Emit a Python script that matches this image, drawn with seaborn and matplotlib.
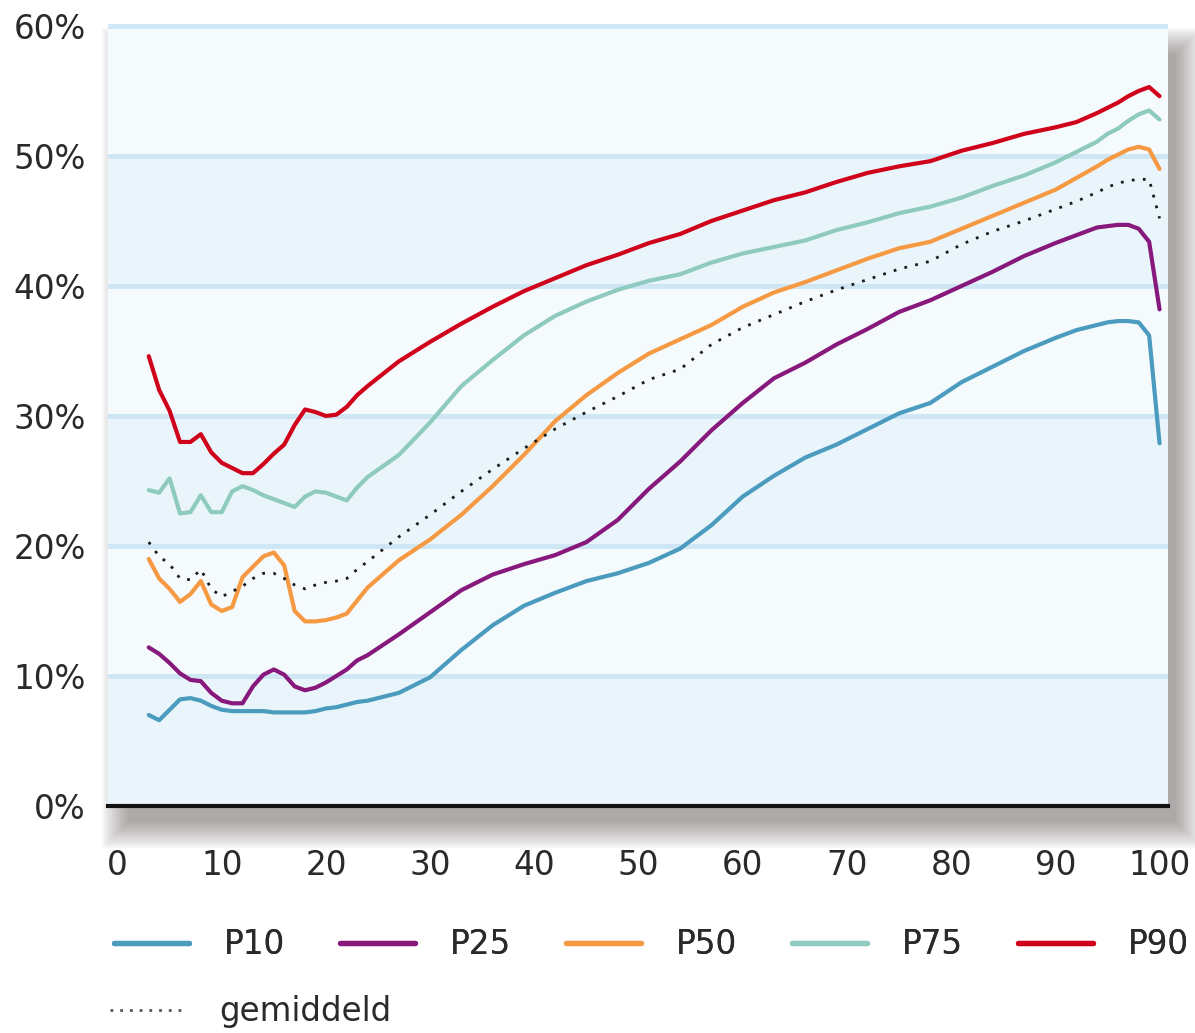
import matplotlib
matplotlib.use("Agg")
import matplotlib.pyplot as plt
from matplotlib.patches import Rectangle
from matplotlib.lines import Line2D
import numpy as np
import pandas as pd
import seaborn as sns

# ---------------- data ----------------
x = [3, 4, 5, 6, 7, 8, 9, 10, 11, 12, 13, 14, 15, 16, 17, 18, 19, 20, 21, 22, 23, 24,
     27, 30, 33, 36, 39, 42, 45, 48, 51, 54, 57, 60, 63, 66, 69, 72, 75, 78, 81, 84,
     87, 90, 92, 94, 95, 96, 97, 98, 99, 100]

p10 = [7.0, 6.6, 7.4, 8.2, 8.3, 8.1, 7.7, 7.4, 7.3, 7.3, 7.3, 7.3, 7.2, 7.2, 7.2, 7.2,
       7.3, 7.5, 7.6, 7.8, 8.0, 8.1,
       8.7, 9.9, 12.0, 13.9, 15.4, 16.4, 17.3, 17.9, 18.7, 19.8, 21.6, 23.8, 25.4, 26.8,
       27.8, 29.0, 30.2, 31.0, 32.6, 33.8, 35.0, 36.0, 36.6, 37.0, 37.2, 37.3, 37.3,
       37.2, 36.2, 27.9]

p25 = [12.2, 11.7, 11.0, 10.2, 9.7, 9.6, 8.7, 8.1, 7.9, 7.9, 9.2, 10.1, 10.5, 10.1, 9.2,
       8.9, 9.1, 9.5, 10.0, 10.5, 11.2, 11.6,
       13.2, 14.9, 16.6, 17.8, 18.6, 19.3, 20.3, 22.0, 24.4, 26.5, 28.9, 31.0, 32.9, 34.1,
       35.5, 36.7, 38.0, 38.9, 40.0, 41.1, 42.3, 43.3, 43.9, 44.5, 44.6, 44.7, 44.7,
       44.4, 43.4, 38.2]

p50 = [19.0, 17.5, 16.7, 15.7, 16.3, 17.3, 15.5, 15.0, 15.3, 17.6, 18.4, 19.2, 19.5,
       18.5, 15.0, 14.2, 14.2, 14.3, 14.5, 14.8, 15.8, 16.8,
       18.9, 20.5, 22.4, 24.6, 27.0, 29.6, 31.6, 33.3, 34.8, 35.9, 37.0, 38.4, 39.5, 40.3,
       41.2, 42.1, 42.9, 43.4, 44.4, 45.4, 46.4, 47.4, 48.3, 49.2, 49.7, 50.1, 50.5,
       50.7, 50.5, 49.0]

p75 = [24.3, 24.1, 25.2, 22.5, 22.6, 23.9, 22.6, 22.6, 24.2, 24.6, 24.3, 23.9, 23.6,
       23.3, 23.0, 23.8, 24.2, 24.1, 23.8, 23.5, 24.5, 25.3,
       27.0, 29.5, 32.3, 34.3, 36.2, 37.7, 38.8, 39.7, 40.4, 40.9, 41.8, 42.5, 43.0, 43.5,
       44.3, 44.9, 45.6, 46.1, 46.8, 47.7, 48.5, 49.5, 50.3, 51.1, 51.7, 52.1, 52.7,
       53.2, 53.5, 52.8]

p90 = [34.6, 32.0, 30.4, 28.0, 28.0, 28.6, 27.2, 26.4, 26.0, 25.6, 25.6, 26.3, 27.1,
       27.8, 29.3, 30.5, 30.3, 30.0, 30.1, 30.7, 31.6, 32.3,
       34.2, 35.7, 37.1, 38.4, 39.6, 40.6, 41.6, 42.4, 43.3, 44.0, 45.0, 45.8, 46.6, 47.2,
       48.0, 48.7, 49.2, 49.6, 50.4, 51.0, 51.7, 52.2, 52.6, 53.3, 53.7, 54.1, 54.6,
       55.0, 55.3, 54.6]

gemiddeld = [20.3, 19.2, 18.6, 17.5, 17.4, 18.2, 16.7, 16.1, 16.5, 16.9, 17.5, 17.9, 17.9,
             17.5, 17.0, 16.7, 17.0, 17.2, 17.3, 17.5, 18.2, 18.8,
             20.7, 22.4, 24.2, 25.9, 27.5, 29.0, 30.3, 31.5, 32.8, 33.6, 35.5, 36.8, 37.8,
             38.8, 39.7, 40.5, 41.3, 41.9, 43.2, 44.2, 45.0, 45.9, 46.5, 47.2, 47.6, 47.9,
             48.1, 48.2, 48.2, 45.2]

series_names = ["P10", "P25", "P50", "P75", "P90"]
series_colors = ["#4a9bbe", "#87187c", "#f59a43", "#8ecbbe", "#d0021b"]
avg_label = "gemiddeld"

x_ticks = [0, 10, 20, 30, 40, 50, 60, 70, 80, 90, 100]
y_ticks = [0, 10, 20, 30, 40, 50, 60]
y_ticklabels = ["0%", "10%", "20%", "30%", "40%", "50%", "60%"]

# ---------------- figure ----------------
sns.set_theme(style="white")
plt.rcParams["font.family"] = ["DejaVu Sans"]
TXT = "#2a2a2a"
FS = 23.5

W, H = 1195, 1033
fig = plt.figure(figsize=(W / 100, H / 100), dpi=100)
fig.patch.set_facecolor("white")


def fx(px):
    return px / W


def fy(py):
    return (H - py) / H


# plot box in pixel coordinates
L, R, T, B = 108, 1168, 24, 806

# soft drop shadow (offset to the lower right) behind the plot box
for s in range(0, 28, 2):
    l, r = L + 20 - s, R + 8 + s
    t, b = T + 30 - s, B + 16 + s
    fig.add_artist(Rectangle((fx(l), fy(b)), fx(r) - fx(l), fy(t) - fy(b),
                             transform=fig.transFigure, facecolor="#5a5050",
                             edgecolor="none", alpha=0.045, zorder=0))

ax = fig.add_axes([fx(L), fy(B), fx(R) - fx(L), fy(T) - fy(B)], zorder=1)
ax.set_facecolor("#f5fafd")

for lo in (0, 20, 40):
    ax.axhspan(lo, lo + 10, color="#eaf5fb", zorder=0, lw=0)

df = pd.DataFrame({"x": x})
for name, vals in zip(series_names, [p10, p25, p50, p75, p90]):
    df[name] = vals
df[avg_label] = gemiddeld
long = df.melt(id_vars="x", value_vars=series_names, var_name="serie", value_name="v")

sns.lineplot(data=long, x="x", y="v", hue="serie", hue_order=series_names,
             palette=series_colors, lw=3.0, legend=False, ax=ax, zorder=3)
sns.lineplot(data=df, x="x", y=avg_label, color="#1a1a1a", lw=2.0,
             linestyle=(0, (1, 3)), ax=ax, zorder=4)

ax.set_xlim(-0.91, 100.81)
ax.set_ylim(0, 60.15)
ax.set_xticks(x_ticks)
ax.set_xticklabels([str(t) for t in x_ticks])
ax.set_yticks(y_ticks)
ax.set_yticklabels(y_ticklabels)
ax.set_xlabel("")
ax.set_ylabel("")

ax.grid(False)
ax.yaxis.grid(True, color="#cfe7f5", lw=3.6, zorder=1)
ax.set_axisbelow(True)

for side in ("top", "left", "right"):
    ax.spines[side].set_visible(False)
ax.spines["bottom"].set_color("#111111")
ax.spines["bottom"].set_linewidth(3.0)
ax.spines["bottom"].set_zorder(5)

ax.tick_params(axis="both", length=0, labelsize=FS, colors=TXT)
ax.tick_params(axis="y", pad=16)
ax.tick_params(axis="x", pad=31)

# legends
handles = [Line2D([0], [0], color=c, lw=3.8) for c in series_colors]
leg1 = fig.legend(handles, series_names, loc="center left",
                  bbox_to_anchor=(fx(114), fy(945)), ncol=5, frameon=False,
                  fontsize=FS, handlelength=2.3, handletextpad=1.05,
                  columnspacing=1.7, borderpad=0, borderaxespad=0, labelcolor=TXT)
fig.add_artist(leg1)
h_avg = [Line2D([0], [0], color="#555555", lw=2.0, linestyle=(0, (1, 2.5)))]
fig.legend(h_avg, [avg_label], loc="center left",
           bbox_to_anchor=(fx(110), fy(1012)), frameon=False, fontsize=FS,
           handlelength=2.2, handletextpad=1.15, borderpad=0, borderaxespad=0,
           labelcolor=TXT)

fig.savefig("out.png", dpi=100, facecolor="white")
